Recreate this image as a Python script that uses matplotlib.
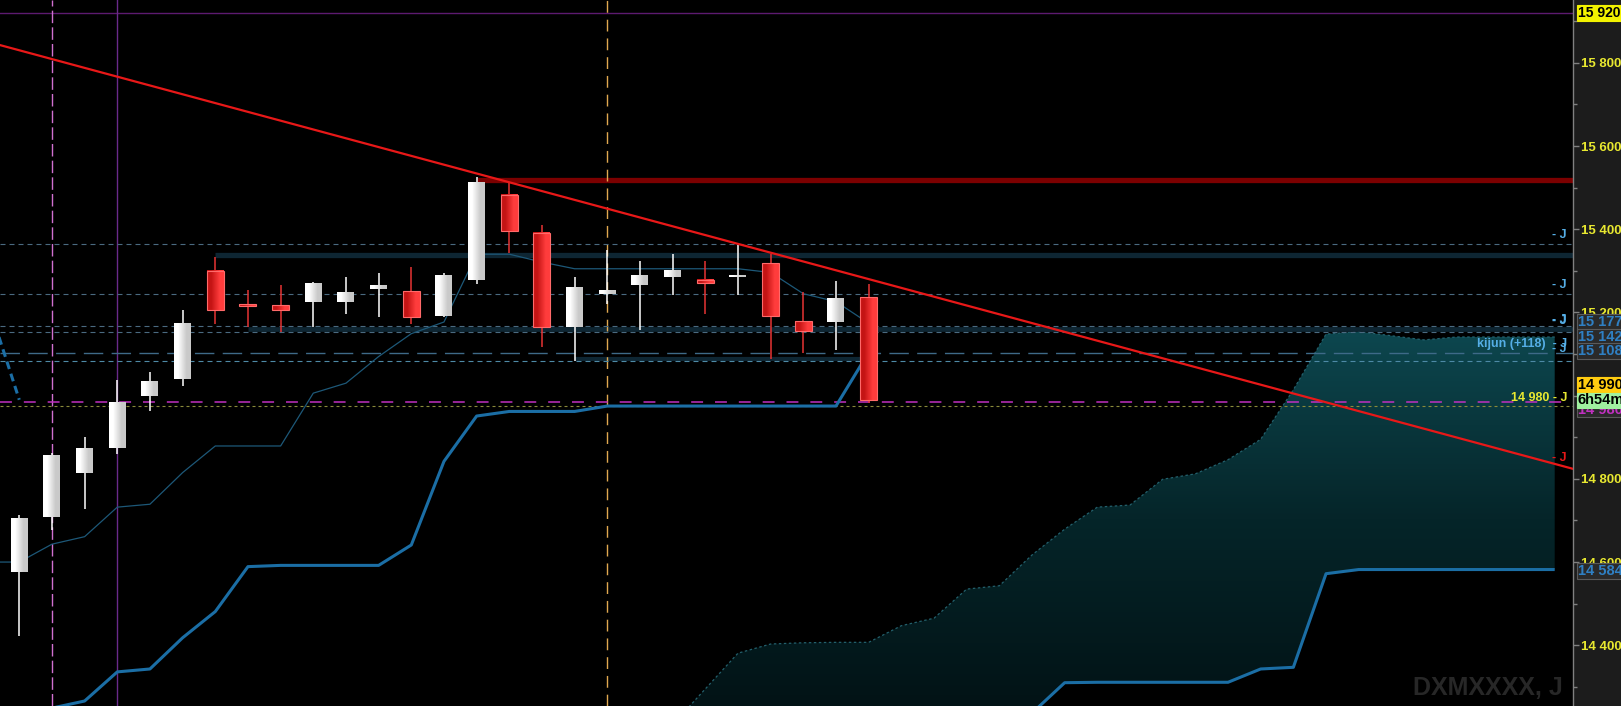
import numpy as np
import matplotlib
matplotlib.use('Agg')
import matplotlib.pyplot as plt
from matplotlib.patches import Rectangle, Polygon
from matplotlib.colors import LinearSegmentedColormap
from matplotlib.ticker import FixedLocator, FuncFormatter
import matplotlib.transforms as mtransforms

plt.rcParams['font.family'] = ['Liberation Sans', 'DejaVu Sans']

# ---------------- data ----------------
candle_idx = list(range(27))
opens  = [14577, 14709, 14813, 14875, 14998, 15041, 15300, 15220, 15218, 15226, 15224, 15257, 15252, 15192,
          15279, 15483, 15391, 15166, 15244, 15265, 15284, 15278, 15284, 15318, 15179, 15177, 15237]
highs  = [14712, 14862, 14900, 15038, 15057, 15206, 15334, 15254, 15266, 15273, 15286, 15295, 15310, 15295,
          15525, 15511, 15411, 15284, 15350, 15324, 15341, 15324, 15362, 15340, 15248, 15275, 15269]
lows   = [14423, 14677, 14728, 14859, 14964, 15022, 15173, 15166, 15154, 15166, 15197, 15190, 15173, 15188,
          15269, 15344, 15116, 15083, 15221, 15158, 15243, 15196, 15243, 15089, 15102, 15110, 14983]
closes = [14705, 14858, 14872, 14984, 15033, 15175, 15205, 15216, 15207, 15271, 15246, 15266, 15190, 15290,
          15514, 15395, 15165, 15262, 15252, 15288, 15300, 15270, 15288, 15191, 15156, 15233, 14990]

tenkan_idx = list(range(-1, 27))
tenkan = [14600, 14600, 14643, 14661, 14732, 14739, 14815, 14879, 14879, 14879, 15006, 15030, 15094, 15149,
          15177, 15340, 15340, 15321, 15305, 15305, 15305, 15305, 15305, 15305, 15296, 15245, 15226, 15174]

kijun_idx = list(range(0, 27))
kijun = [14236, 14249, 14266, 14336, 14343, 14418, 14481, 14589, 14592, 14592, 14592, 14592, 14641, 14842,
         14951, 14962, 14962, 14962, 14975, 14975, 14975, 14975, 14975, 14975, 14975, 14975, 15104]

chikou_shift = 26

cloud_idx = list(range(20, 48))
span_a = [14209, 14295, 14381, 14403, 14406, 14407, 14407, 14447, 14465, 14535, 14543, 14617, 14679, 14732,
          14737, 14799, 14812, 14846, 14895, 15014, 15148, 15154, 15144, 15134, 15141, 15141, 15141, 15141]
span_b = [14120, 14120, 14150, 14150, 14150, 14180, 14180, 14200, 14200, 14220, 14230, 14237, 14310, 14311,
          14311, 14311, 14311, 14311, 14343, 14347, 14572, 14582, 14582, 14582, 14582, 14582, 14582, 14582]

trend_x = [14, 40]
trend_y = [15534, 14984]

ytick_major = [14400, 14600, 14800, 15000, 15200, 15400, 15600, 15800]
ytick_minor = [14300, 14500, 14700, 14900, 15100, 15300, 15500, 15700, 15900]

price_boxes = [15920, 15177, 15142, 15108, 14584]
last_price = 14990
countdown = '6h54m'
magenta_level = 14980

y_range = (14254, 15951)
x_range = (-0.59, 47.56)

# ---------------- figure ----------------
W, H = 1621, 706
fig = plt.figure(figsize=(W / 100, H / 100), dpi=100, facecolor='#1c1c1c')
ax = fig.add_axes([0, 0, 1573 / W, 1])
ax.set_facecolor('black')

# ---- cloud with gradient ----
verts = list(zip(cloud_idx, span_a)) + list(zip(cloud_idx[::-1], span_b[::-1]))
poly = Polygon(verts, closed=True, facecolor='none', edgecolor='none')
ax.add_patch(poly)
cloud_cmap = LinearSegmentedColormap.from_list('cloud', ['#021316', '#052529', '#0d474f'])
grad = np.linspace(1, 0, 256).reshape(-1, 1)
im = ax.imshow(grad, extent=[cloud_idx[0], cloud_idx[-1], y_range[0], max(span_a)],
               cmap=cloud_cmap, aspect='auto', zorder=1, interpolation='bilinear')
im.set_clip_path(poly)
ax.plot(cloud_idx, span_a, color='#23606c', lw=0.9, ls=(0, (2, 2)), zorder=1.5)
ax.plot(cloud_idx, span_b, color='#1b6ea5', lw=2.2, zorder=1.5, solid_capstyle='butt')

# ---- horizontal levels ----
xr = x_range[1] + 1
ax.axhline(15920, color='#5c1a70', lw=1.0, zorder=2)
ax.hlines(15519, 14, xr, color='#7b0000', lw=3.8, zorder=2)
ax.hlines(15338, 6, xr, color='#0e2633', lw=3.8, zorder=2)
ax.hlines(15160, 7, xr, color='#0e2633', lw=3.4, zorder=2)
ax.hlines(15088, 17, 26, color='#0e2633', lw=3.0, zorder=2)
dash_s = (0, (4.5, 3.6))
for lvl in [15364, 15244, 15167, 15154]:
    ax.axhline(lvl, color='#4a6a80', lw=0.8, ls=dash_s, zorder=2.1)
ax.axhline(15102, color='#3e6a88', lw=1.0, ls=(0, (14, 6)), zorder=2.1)
ax.axhline(15083, color='#4e8aa6', lw=0.8, ls=dash_s, zorder=2.1)
ax.axhline(magenta_level + 4, color='#c030c0', lw=1.1, ls=(0, (7.8, 7.8)), zorder=2.2)
ax.axhline(14975, color='#8a8a3a', lw=0.8, ls=(0, (2.7, 2.7)), zorder=2.2)

# ---- vertical markers ----
ax.axvline(1, color='#d070d0', lw=1.0, ls=(0, (9, 3)), zorder=2)
ax.axvline(3, color='#6a2a8a', lw=1.0, zorder=2)
ax.axvline(18, color='#e0a850', lw=1.0, ls=(0, (8.5, 5)), zorder=2)

# ---- ichimoku lines ----
ax.plot(tenkan_idx, tenkan, color='#1d5878', lw=0.9, zorder=3)
ax.plot(kijun_idx, kijun, color='#1b6ea5', lw=2.2, zorder=3)
chikou_x = [i - chikou_shift for i in candle_idx]
ax.plot(chikou_x, closes, color='#1b6ea5', lw=2.2, ls=(0, (2.6, 1.6)), zorder=3)

# ---- candles ----
w = 0.52
white_cmap = LinearSegmentedColormap.from_list('wc', ['#ffffff', '#c9c9c9'])
red_cmap = LinearSegmentedColormap.from_list('rc', ['#c41414', '#ff3c3c'])
hgrad = np.array([[0.0, 1.0]])
for i, o, h, l, c in zip(candle_idx, opens, highs, lows, closes):
    up = c >= o
    wick_col = '#ffffff' if up else '#e63434'
    ax.vlines(i, l, h, color=wick_col, lw=1.1, zorder=4)
    lo, hi = min(o, c), max(o, c)
    ax.imshow(hgrad, extent=[i - w / 2, i + w / 2, lo, hi], cmap=white_cmap if up else red_cmap,
              aspect='auto', zorder=5, interpolation='bilinear')
    if not up:
        ax.add_patch(Rectangle((i - w / 2, lo), w, hi - lo, facecolor='none',
                               edgecolor='#ff6a6a', lw=0.8, zorder=5.1))

# ---- trendline ----
ax.axline((trend_x[0], trend_y[0]), (trend_x[1], trend_y[1]), color='#e81818', lw=1.6, zorder=6)

# ---- in-plot labels ----
blend = mtransforms.blended_transform_factory(ax.transAxes, ax.transData)
xr_lab = 1567 / 1573
lblue = '#55aee6'
def rlabel(y, s, color, dy=6.5):
    ax.annotate(s, xy=(xr_lab, y), xycoords=blend, xytext=(0, dy), textcoords='offset points',
                ha='right', va='center', color=color, fontsize=9, fontweight='bold', zorder=7)

rlabel(15364, '- J', lblue)
rlabel(15244, '- J', lblue)
rlabel(15167, '- J', lblue, dy=4.5)
rlabel(15154, '- J', lblue, dy=7.5)
rlabel(15102, 'kijun (+118)  - J', lblue)
rlabel(15102, '- J', lblue, dy=3.0)
rlabel(magenta_level + 4, '14 980 - J', '#e8e830', dy=3.0)
ax.annotate('- J', xy=(xr_lab, 14828), xycoords=blend, xytext=(0, 6.5), textcoords='offset points',
            ha='right', va='center', color='#e81818', fontsize=9, fontweight='bold', zorder=7)

ax.text(1563 / 1573, 14268, 'DXMXXXX, J', transform=blend, ha='right', va='bottom',
        color='#272727', fontsize=18, fontweight='bold', zorder=0.5)

# ---- axes styling ----
ax.set_xlim(*x_range)
ax.set_ylim(*y_range)
ax.set_xticks([])
for s in ['left', 'top', 'bottom']:
    ax.spines[s].set_visible(False)
ax.spines['right'].set_color('#808080')
ax.spines['right'].set_linewidth(1.0)
ax.yaxis.tick_right()
ax.yaxis.set_major_locator(FixedLocator(ytick_major))
ax.yaxis.set_minor_locator(FixedLocator(ytick_minor))
ax.yaxis.set_major_formatter(FuncFormatter(lambda v, p: f"{int(round(v)):,}".replace(',', ' ')))
ax.tick_params(axis='y', which='major', colors='#808080', labelcolor='#e8e830', length=4, width=1,
               pad=2, labelsize=9.5)
ax.tick_params(axis='y', which='minor', colors='#808080', length=3, width=1)
for t in ax.get_yticklabels():
    t.set_fontweight('bold')

# ---- right-axis price boxes ----
xb = 1 + 5 / 1573
def pbox(y, s, fc, tc, ec, dy=0.0, z=8, fs=10.5):
    ax.annotate(s, xy=(xb, y), xycoords=blend, xytext=(0, dy), textcoords='offset points',
                ha='left', va='center', color=tc, fontsize=fs, fontweight='bold', annotation_clip=False,
                zorder=z, bbox=dict(boxstyle='square,pad=0.06', fc=fc, ec=ec, lw=0.8))

pbox(price_boxes[0], '15 920', '#f2f200', '#000000', '#f2f200', fs=10)
for v in price_boxes[1:4]:
    pbox(v, f"{v:,}".replace(',', ' '), '#2a2a2a', '#2f80c4', '#5a5a5a')
pbox(price_boxes[4], '14 584', '#2a2a2a', '#2f80c4', '#5a5a5a', dy=-1.5)
pbox(magenta_level, '14 980', '#2a2a2a', '#c030c0', '#5a5a5a', dy=-4.0, z=8)
pbox(last_price, '14 990', '#ffcc10', '#000000', '#ffcc10', dy=10.5, z=9)
pbox(last_price, countdown, '#a0f0a0', '#000000', '#a0f0a0', dy=-0.5, z=9)

fig.savefig('out.png', dpi=100, facecolor=fig.get_facecolor())
